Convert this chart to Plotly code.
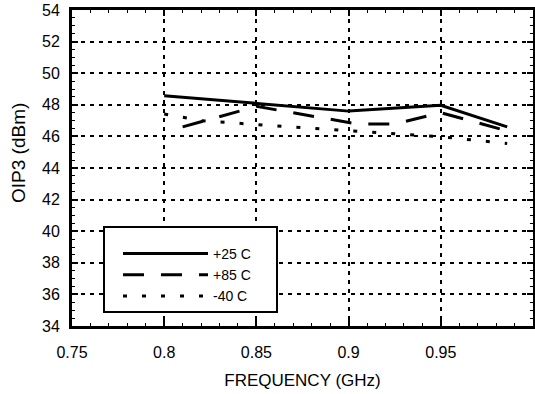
import plotly.graph_objects as go

# Frequency (GHz) and OIP3 (dBm)
freq_25 = [0.80, 0.85, 0.90, 0.95, 0.986]
oip3_25 = [48.58, 48.10, 47.60, 47.97, 46.60]

freq_85 = [0.81, 0.85, 0.905, 0.925, 0.95, 0.986]
oip3_85 = [46.60, 47.90, 46.78, 46.78, 47.50, 46.35]

freq_m40 = [0.80, 0.82, 0.85, 0.90, 0.95, 0.986]
oip3_m40 = [47.42, 47.00, 46.75, 46.35, 45.98, 45.55]

labels = ["+25 C", "+85 C", "-40 C"]

FONT = "Liberation Sans, Arial, Helvetica, sans-serif"

W, H = 535, 394
ML, MR, MT, MB = 72, 2, 10, 68
PW, PH = W - ML - MR, H - MT - MB


def px_x(px):
    return (px - ML) / PW


def px_y(py):
    return (H - MB - py) / PH


fig = go.Figure()
fig.add_trace(go.Scatter(x=freq_25, y=oip3_25, mode="lines", name=labels[0],
                         line=dict(color="black", width=3, dash="solid")))
fig.add_trace(go.Scatter(x=freq_85, y=oip3_85, mode="lines", name=labels[1],
                         line=dict(color="black", width=3, dash="21px,17px")))
fig.add_trace(go.Scatter(x=freq_m40, y=oip3_m40, mode="lines", name=labels[2],
                         line=dict(color="black", width=3, dash="4px,15px")))

axis_common = dict(
    showline=True, linecolor="black", linewidth=3, mirror="allticks",
    ticks="inside", tickcolor="black", tickwidth=1.5, ticklen=6,
    showgrid=True, gridcolor="black", gridwidth=2, griddash="4px,5px",
    zeroline=False, automargin=False,
    tickfont=dict(family=FONT, size=16, color="black"),
)

fig.update_xaxes(
    range=[0.75, 1.0], tickvals=[0.75, 0.8, 0.85, 0.9, 0.95, 1.0],
    ticktext=["0.75", "0.8", "0.85", "0.9", "0.95", "1"],
    minor=dict(dtick=0.01, tick0=0.75, ticks="inside", ticklen=3, tickcolor="black", tickwidth=1, showgrid=False),
    title=dict(text="FREQUENCY (GHz)", font=dict(family=FONT, size=17, color="black"), standoff=14),
    ticklabelstandoff=10,
    **axis_common,
)
fig.update_yaxes(
    range=[34, 54], dtick=2, tick0=34,
    minor=dict(dtick=0.5, tick0=34, ticks="inside", ticklen=3, tickcolor="black", tickwidth=1, showgrid=False),
    ticklabelstandoff=6,
    **axis_common,
)

# y-axis title (placed slightly above the plot centre, as in the reference)
fig.add_annotation(text="OIP3 (dBm)", textangle=-90, xref="paper", yref="paper",
                   x=px_x(18), y=px_y(153), xanchor="center", yanchor="middle",
                   showarrow=False, font=dict(family=FONT, size=19, color="black"))

# legend frame (white box behind the legend entries)
fig.add_shape(type="rect", xref="paper", yref="paper",
              x0=px_x(104), x1=px_x(277), y0=px_y(312), y1=px_y(227),
              line=dict(color="black", width=2), fillcolor="white", layer="above")

fig.update_layout(
    width=W, height=H,
    margin=dict(l=ML, r=MR, t=MT, b=MB),
    plot_bgcolor="white", paper_bgcolor="white",
    showlegend=True,
    legend=dict(
        x=px_x(118), y=px_y(238), xanchor="left", yanchor="top",
        bgcolor="rgba(0,0,0,0)", borderwidth=0,
        font=dict(family=FONT, size=14, color="black"),
        itemwidth=85,
    ),
)

fig.write_html("out.html")
